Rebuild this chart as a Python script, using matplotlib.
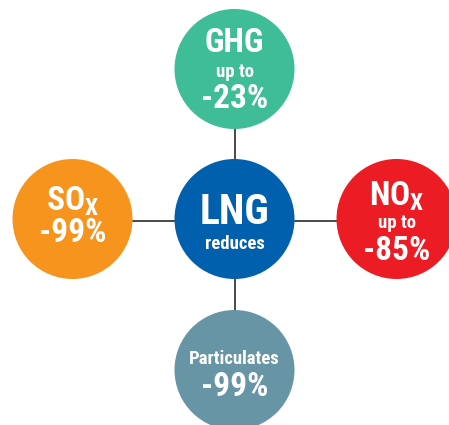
import matplotlib
matplotlib.use("Agg")
import matplotlib.pyplot as plt
from matplotlib.patches import Circle

# Hub and spokes: what LNG reduces
hub_title = "LNG"
hub_sub = "reduces"
hub_color = "#0060ad"

names = [r"GHG", r"NO$_{\mathregular{X}}$", "Particulates", r"SO$_{\mathregular{X}}$"]
qualifiers = ["up to", "up to", "", ""]
values = ["-23%", "-85%", "-99%", "-99%"]
colors = ["#3ebd96", "#ec1c24", "#6795a5", "#f7941d"]

plt.rcParams['font.family'] = ['Roboto Condensed', 'Liberation Sans Narrow', 'Roboto', 'DejaVu Sans']

fig = plt.figure(figsize=(4.49, 4.25), dpi=100)
ax = fig.add_axes([0, 0, 1, 1])
ax.set_xlim(0, 449)
ax.set_ylim(425, 0)
ax.set_aspect('equal')
ax.axis('off')

cx, cy = 234.5, 219
r = 60
# spoke offsets: up, right, down, left
offsets = [(0, -150), (162, 0), (0, 151), (-162, 0)]
# baseline offsets (name, qualifier, value) from circle centre
baselines = [(-17.5, 7.5, 38.5), (-14, 9, 41), (-6, None, 26), (-9, None, 23)]
name_sizes = [24, 24, 13.5, 24]

for (dx, dy), name, qual, val, col, bl, ns in zip(offsets, names, qualifiers, values,
                                                  colors, baselines, name_sizes):
    x, y = cx + dx, cy + dy
    # connector line
    if dx == 0:
        ax.plot([x, x], [cy + (r if dy > 0 else -r), y - (r if dy > 0 else -r)],
                color="#3a3a3a", lw=1.3, zorder=1)
    else:
        ax.plot([cx + (r if dx > 0 else -r), x - (r if dx > 0 else -r)], [y + 2, y + 2],
                color="#3a3a3a", lw=1.3, zorder=1)
    ax.add_patch(Circle((x, y), r, color=col, zorder=2, lw=0))
    ax.text(x, y + bl[0], name, ha='center', va='baseline', color='white',
            fontsize=ns, fontweight='bold', zorder=3)
    if qual:
        ax.text(x, y + bl[1], qual, ha='center', va='baseline', color='white',
                fontsize=13.5, fontweight='bold', zorder=3)
    ax.text(x, y + bl[2], val, ha='center', va='baseline', color='white',
            fontsize=24, fontweight='bold', zorder=3)

ax.add_patch(Circle((cx, cy), r, color=hub_color, zorder=2, lw=0))
ax.text(cx, cy + 5, hub_title, ha='center', va='baseline', color='white',
        fontsize=30, fontweight='bold', zorder=3)
ax.text(cx, cy + 30, hub_sub, ha='center', va='baseline', color='white',
        fontsize=13.5, fontweight='bold', zorder=3)

fig.savefig("out.png", dpi=100)
